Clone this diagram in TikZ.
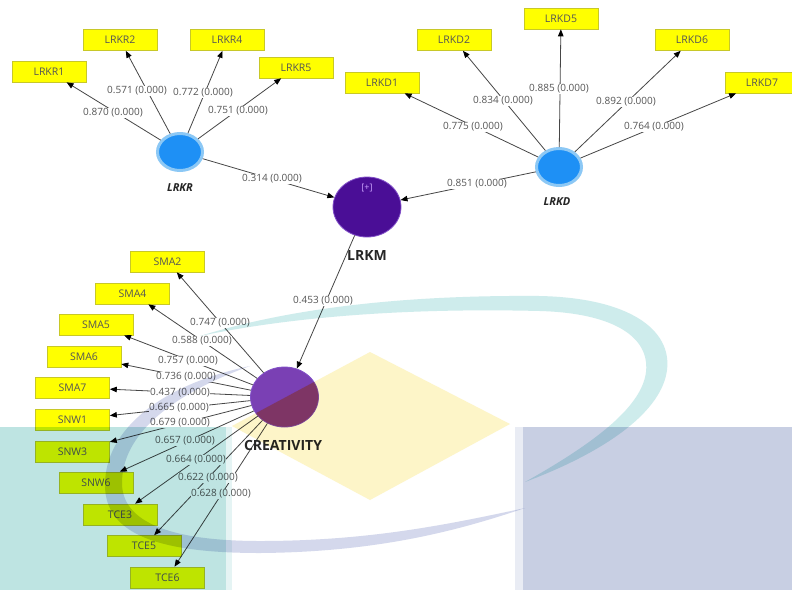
\documentclass[tikz,border=0pt]{standalone}
\usepackage{fontspec}
\setmainfont{Open Sans}
\usetikzlibrary{arrows.meta,shapes.geometric}
\definecolor{boxfill}{RGB}{255,255,0}
\definecolor{boxline}{RGB}{200,200,40}
\definecolor{txtgray}{RGB}{85,85,85}
\definecolor{linegray}{RGB}{70,70,70}
\definecolor{bluein}{RGB}{30,144,245}
\definecolor{blueout}{RGB}{140,200,245}
\definecolor{lrkmfill}{RGB}{74,14,150}
\definecolor{lrkmline}{RGB}{130,80,200}
\definecolor{crefill}{RGB}{122,64,180}
\definecolor{crelow}{RGB}{128,56,130}
\definecolor{plusc}{RGB}{205,165,255}
\definecolor{wmteal}{RGB}{190,228,226}
\definecolor{wmarc}{RGB}{206,236,236}
\definecolor{wmlav}{RGB}{200,207,227}
\definecolor{wmswoosh}{RGB}{212,216,236}
\definecolor{wmyel}{RGB}{253,245,200}
\begin{document}
\begin{tikzpicture}[x=1pt,y=-1pt,
  ind/.style={draw=boxline, line width=0.6pt, fill=boxfill, minimum width=74pt, minimum height=21pt, inner sep=0pt, font=\fontsize{10.5}{12}\selectfont, text=txtgray},
  latblue/.style={ellipse, fill=bluein, draw=blueout, line width=3pt, minimum width=45pt, minimum height=37pt, inner sep=0pt},
  latpurple/.style={ellipse, draw=lrkmline, line width=0.8pt, minimum width=68pt, minimum height=60pt, inner sep=0pt},
  conn/.style={draw=linegray, line width=0.8pt, -{Triangle[length=7pt,width=5.5pt,color=black]}},
  lbl/.style={fill=white, inner sep=0.6pt, text=txtgray, font=\fontsize{10}{12}\selectfont},
  latname/.style={font=\bfseries\fontsize{14}{16}\selectfont, text=black!85}
]
\useasboundingbox (0,0) rectangle (792,590);
\fill[white] (0,0) rectangle (792,590);

% indicators
\node[ind] (lrkr1) at (49,71.5) {LRKR1};
\node[ind] (lrkr2) at (120,40) {LRKR2};
\node[ind] (lrkr4) at (227,40) {LRKR4};
\node[ind] (lrkr5) at (296,67.5) {LRKR5};
\node[ind] (lrkd1) at (382,82.5) {LRKD1};
\node[ind] (lrkd2) at (454,40) {LRKD2};
\node[ind] (lrkd5) at (561,18.5) {LRKD5};
\node[ind] (lrkd6) at (692,40) {LRKD6};
\node[ind] (lrkd7) at (762,82.5) {LRKD7};
\node[ind] (sma2) at (167.5,261.5) {SMA2};
\node[ind] (sma4) at (132.5,293.5) {SMA4};
\node[ind] (sma5) at (96,324.5) {SMA5};
\node[ind] (sma6) at (84,356.5) {SMA6};
\node[ind] (sma7) at (72.5,387.5) {SMA7};
\node[ind] (snw1) at (72.5,419.5) {SNW1};
\node[ind] (snw3) at (72.5,451.5) {SNW3};
\node[ind] (snw6) at (96,482.5) {SNW6};
\node[ind] (tce3) at (120,514.5) {TCE3};
\node[ind] (tce5) at (144,546) {TCE5};
\node[ind] (tce6) at (167.5,577.5) {TCE6};

% latent variables
\node[latblue] (lrkr) at (180,152) {};
\node[latblue] (lrkd) at (559,167) {};
\node[latpurple, fill=lrkmfill] (lrkm) at (367,207) {};
\node[latpurple, fill=crefill] (cre) at (284.5,397) {};
\begin{scope}
  \clip (232,426) -- (370,352) -- (510,424) -- (370,500) -- cycle;
  \fill[crelow] (cre.center) ellipse [x radius=33.6pt, y radius=29.6pt];
\end{scope}
\node[text=plusc, font=\fontsize{9}{10}\selectfont] (plus) at (367,188) {[+]};
\node[font=\bfseries\itshape\fontsize{11}{12}\selectfont, text=black!85] (lrkrname) at (180,188) {LRKR};
\node[font=\bfseries\itshape\fontsize{11}{12}\selectfont, text=black!85] (lrkdname) at (557,202) {LRKD};
\node[latname] (lrkmname) at (367,255) {LRKM};

% connectors
\draw[conn] (lrkr) -- (lrkr1);
\draw[conn] (lrkr) -- (lrkr2);
\draw[conn] (lrkr) -- (lrkr4);
\draw[conn] (lrkr) -- (lrkr5);
\draw[conn] (lrkd) -- (lrkd1);
\draw[conn] (lrkd) -- (lrkd2);
\draw[conn] (lrkd) -- (lrkd5);
\draw[conn] (lrkd) -- (lrkd6);
\draw[conn] (lrkd) -- (lrkd7);
\draw[conn] (lrkr) -- (lrkm);
\draw[conn] (lrkd) -- (lrkm);
\draw[conn] (lrkm) -- (cre);
\foreach \t in {sma2,sma4,sma5,sma6,sma7,snw1,snw3,snw6,tce3,tce5,tce6}
  \draw[conn] (cre) -- (\t);

% path labels
\node[lbl] (l1) at (113,113) {0.870 (0.000)};
\node[lbl] (l2) at (137,91) {0.571 (0.000)};
\node[lbl] (l3) at (203,93) {0.772 (0.000)};
\node[lbl] (l4) at (238,111) {0.751 (0.000)};
\node[lbl] (l5) at (272,179) {0.314 (0.000)};
\node[lbl] (l6) at (473,127) {0.775 (0.000)};
\node[lbl] (l7) at (503,101) {0.834 (0.000)};
\node[lbl] (l8) at (559,89) {0.885 (0.000)};
\node[lbl] (l9) at (626,102) {0.892 (0.000)};
\node[lbl] (l10) at (654,127) {0.764 (0.000)};
\node[lbl] (l11) at (477,184) {0.851 (0.000)};
\node[lbl] (l12) at (323,301) {0.453 (0.000)};
\node[lbl] (f1) at (220,323) {0.747 (0.000)};
\node[lbl] (f2) at (202,341) {0.588 (0.000)};
\node[lbl] (f3) at (188,361) {0.757 (0.000)};
\node[lbl] (f4) at (186,377) {0.736 (0.000)};
\node[lbl] (f5) at (180,393) {0.437 (0.000)};
\node[lbl] (f6) at (179,408) {0.665 (0.000)};
\node[lbl] (f7) at (180,423) {0.679 (0.000)};
\node[lbl] (f8) at (185,441) {0.657 (0.000)};
\node[lbl] (f9) at (196,460) {0.664 (0.000)};
\node[lbl] (f10) at (208,478) {0.622 (0.000)};
\node[lbl] (f11) at (221,494) {0.628 (0.000)};
\node[latname] (crename) at (283,445) {CREATIVITY};

% watermark
\begin{scope}[blend mode=multiply]
\fill[wmteal] (0,427) rectangle (226,590);
\fill[wmteal!40] (226,427) rectangle (232,590);
\fill[wmlav] (523,427) rectangle (792,590);
\fill[wmlav!40] (515,427) rectangle (523,590);
\fill[wmyel] (232,426) -- (370,352) -- (510,424) -- (370,500) -- cycle;
\fill[wmarc] (200,336) .. controls (300,305) and (420,295) .. (540,296)
  .. controls (630,298) and (672,330) .. (667,370)
  .. controls (662,410) and (610,450) .. (525,482)
  .. controls (600,440) and (642,405) .. (646,372)
  .. controls (650,335) and (610,313) .. (540,311)
  .. controls (420,308) and (300,315) .. (200,336) -- cycle;
\fill[wmswoosh] (250,366) .. controls (160,385) and (105,430) .. (105,485)
  .. controls (105,535) and (160,553) .. (260,553)
  .. controls (380,552) and (460,530) .. (525,508)
  .. controls (450,524) and (370,541) .. (260,541)
  .. controls (170,541) and (122,522) .. (122,483)
  .. controls (122,435) and (170,395) .. (250,366) -- cycle;
\end{scope}
\end{tikzpicture}
\end{document}
